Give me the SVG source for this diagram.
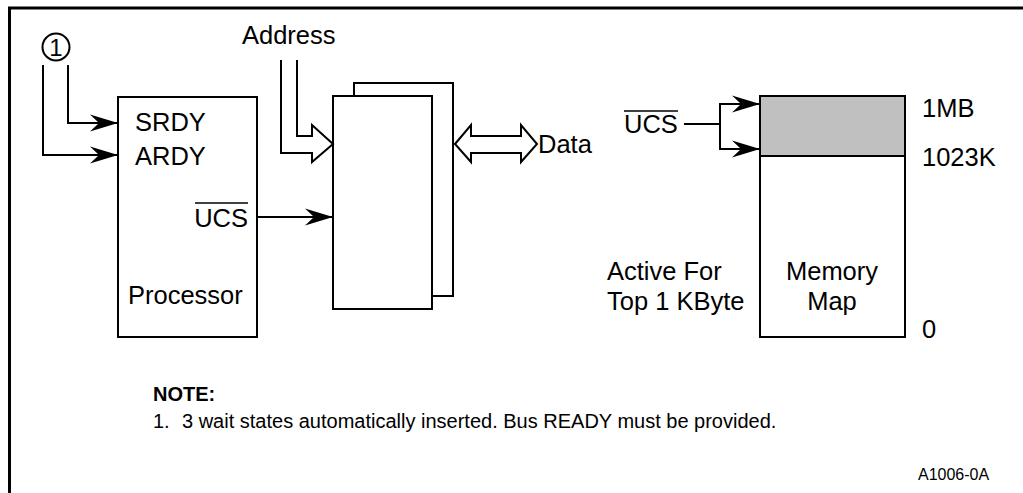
<svg xmlns="http://www.w3.org/2000/svg" width="1023" height="493" viewBox="0 0 1023 493">
<style>
  text { font-family: "Liberation Sans", Arial, sans-serif; fill: #000; }
  .lbl { font-size: 25.5px; }
  .box { fill: #fff; stroke: #000; stroke-width: 2; }
  .wire { fill: none; stroke: #000; stroke-width: 2; }
  .bus { fill: #fff; stroke: #000; stroke-width: 2; stroke-linejoin: miter; }
  .bar { stroke: #000; stroke-width: 1.5; }
</style>
<defs>
  <marker id="arr" viewBox="-29 -10 31 20" markerWidth="31" markerHeight="20" refX="0" refY="0" orient="auto" markerUnits="userSpaceOnUse">
    <path d="M0,0 L-28,-8.5 L-19,0 L-28,8.5 Z" fill="#000"/>
  </marker>
</defs>
<rect width="1023" height="493" fill="#fff"/>
<g id="frame">
  <path d="M9.5 493 V8 H1023" fill="none" stroke="#000" stroke-width="3"/>
</g>
<g id="note1">
  <circle cx="56" cy="47" r="13.5" fill="none" stroke="#000" stroke-width="2"/>
  <text x="56" y="56" font-size="24" text-anchor="middle">1</text>
</g>
<g id="processor">
  <rect class="box" x="118" y="97" width="139" height="240"/>
  <text class="lbl" x="135" y="131">SRDY</text>
  <text class="lbl" x="135" y="165">ARDY</text>
  <text class="lbl" x="248" y="227" text-anchor="end">UCS</text>
  <line class="bar" x1="195" y1="203" x2="248" y2="203"/>
  <text class="lbl" x="128" y="304">Processor</text>
</g>
<g id="memory-chips">
  <rect class="box" x="354" y="83" width="99" height="213"/>
  <rect class="box" x="333" y="96" width="99" height="213"/>
</g>
<g id="address">
  <text class="lbl" x="242" y="44">Address</text>
  <path class="bus" d="M281 60 V153 H312 V162 L333 144 L312 125 V136 H297 V60"/>
</g>
<g id="data">
  <path class="bus" d="M455 144 L471 125 V136 H521 V125 L537 144 L521 162 V153 H471 V162 Z"/>
  <text class="lbl" x="538" y="153">Data</text>
</g>
<g id="memory-map">
  <rect class="box" x="760" y="96" width="145" height="241"/>
  <rect x="760" y="96" width="145" height="60" fill="#c0c0c0" stroke="#000" stroke-width="2"/>
  <text class="lbl" x="832" y="280" text-anchor="middle">Memory</text>
  <text class="lbl" x="832" y="310" text-anchor="middle">Map</text>
  <text class="lbl" x="922" y="117">1MB</text>
  <text class="lbl" x="922" y="166">1023K</text>
  <text class="lbl" x="922" y="338">0</text>
  <text class="lbl" x="607" y="280">Active For</text>
  <text class="lbl" x="607" y="310">Top 1 KByte</text>
</g>
<g id="ucs-map">
  <text class="lbl" x="624" y="133">UCS</text>
  <line class="bar" x1="624" y1="111" x2="678" y2="111"/>
</g>
<g id="connectors">
  <path class="wire" d="M68 65 V123 H118" marker-end="url(#arr)"/>
  <path class="wire" d="M43 65 V155 H118" marker-end="url(#arr)"/>
  <path class="wire" d="M257 217 H333" stroke-width="2.5" marker-end="url(#arr)"/>
  <path class="wire" d="M684 124 H720" stroke-width="3.5"/>
  <path class="wire" d="M720 124 V104 H760" marker-end="url(#arr)"/>
  <path class="wire" d="M720 124 V149 H760" marker-end="url(#arr)"/>
</g>
<g id="notes">
  <text x="153" y="401" font-size="20" font-weight="bold">NOTE:</text>
  <text x="153" y="428" font-size="20">1.</text>
  <text x="182" y="428" font-size="20">3 wait states automatically inserted. Bus READY must be provided.</text>
  <text x="918" y="480" font-size="16">A1006-0A</text>
</g>
</svg>
